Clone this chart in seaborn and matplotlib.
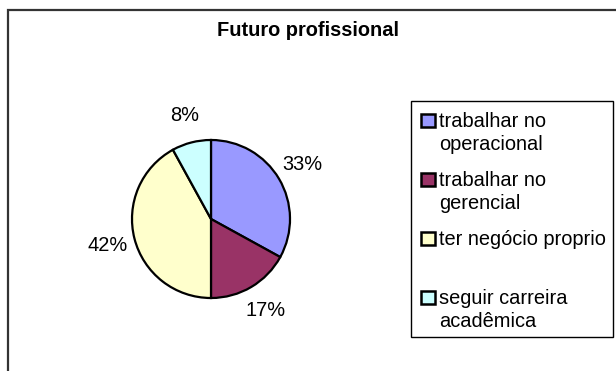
import matplotlib
matplotlib.use("Agg")
import matplotlib.pyplot as plt
from matplotlib.patches import Rectangle
import seaborn as sns

# ---- data ----
title = "Futuro profissional"
categories = ["trabalhar no\noperacional", "trabalhar no\ngerencial",
              "ter negócio proprio", "seguir carreira\nacadêmica"]
values = [33, 17, 42, 8]
colors = ["#9999FF", "#993366", "#FFFFCC", "#CCFFFF"]

sns.set_theme(style="white")
plt.rcParams["font.family"] = ["Liberation Sans", "DejaVu Sans"]

W, H = 616, 371
fig = plt.figure(figsize=(W / 100, H / 100), dpi=100)
fig.patch.set_facecolor("white")

def fx(px):
    return px / W

def fy(py):
    return 1 - py / H

FS = 14.4

# outer chart frame (extends past right/bottom edges)
fig.patches.append(Rectangle((fx(8), -0.2), 1.5, fy(10) + 0.2,
                             transform=fig.transFigure, fill=False,
                             ec="#333333", lw=1.6))

# title
fig.text(fx(308), fy(36), title, ha="center", va="baseline",
         fontsize=FS, fontweight="bold", color="black")

# pie axes: centre (211, 219) px, radius 79 px
cx, cy, r = 211, 219, 79
ax = fig.add_axes([fx(cx - r), fy(cy + r), 2 * r / W, 2 * r / H])
wedges, texts, autotexts = ax.pie(
    values, colors=colors, startangle=90, counterclock=False,
    autopct=lambda p: f"{p:.0f}%", pctdistance=1.35,
    wedgeprops=dict(edgecolor="black", linewidth=1.6),
    textprops=dict(fontsize=FS, color="black"))
ax.set_xlim(-1, 1)
ax.set_ylim(-1, 1)
ax.set_axis_off()

# legend box
lx0, ly0, lx1, ly1 = 411, 101, 613, 337
fig.patches.append(Rectangle((fx(lx0), fy(ly1)), fx(lx1) - fx(lx0),
                             fy(ly0) - fy(ly1), transform=fig.transFigure,
                             fill=False, ec="black", lw=1.0))
pitch = 59
line_gap = 23
for i, (lab, col) in enumerate(zip(categories, colors)):
    base = 127 + i * pitch
    fig.patches.append(Rectangle((fx(421), fy(base)), 13.5 / W, 13.5 / H,
                                 transform=fig.transFigure, fc=col,
                                 ec="black", lw=1.8))
    for k, line in enumerate(lab.split("\n")):
        fig.text(fx(439), fy(base + k * line_gap), line, ha="left",
                 va="baseline", fontsize=FS, color="black")

fig.savefig("out.png", dpi=100, facecolor="white")
